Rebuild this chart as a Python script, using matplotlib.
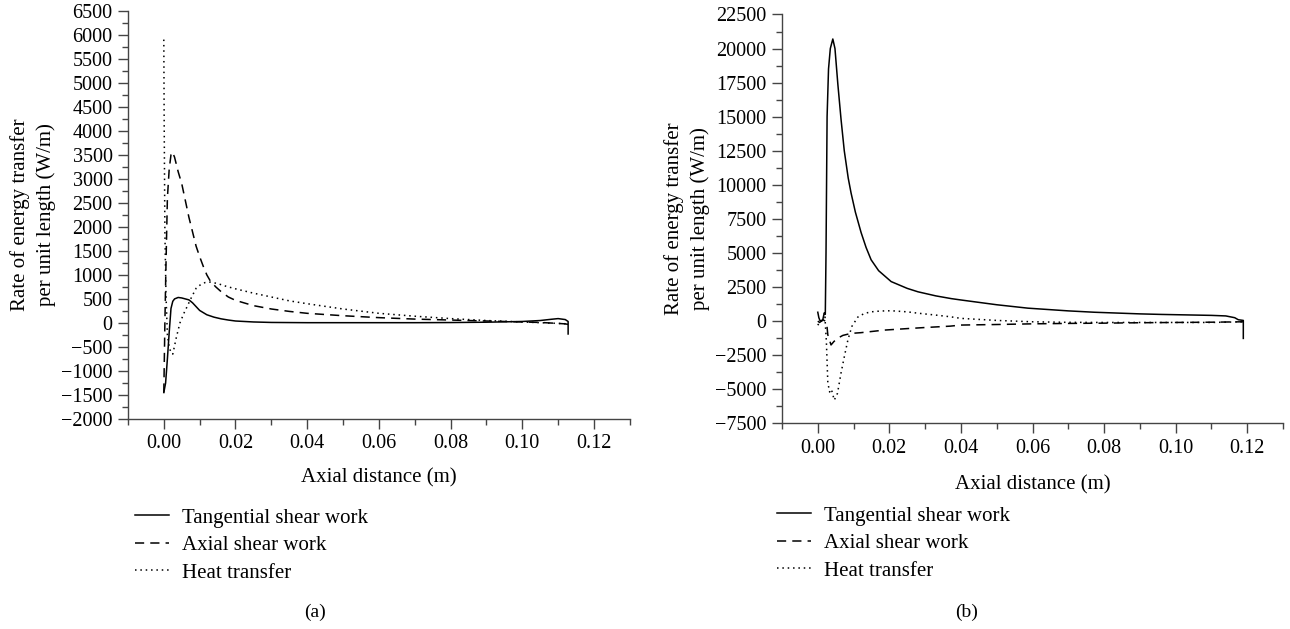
import matplotlib
matplotlib.use("Agg")
import matplotlib.pyplot as plt
from matplotlib.ticker import MultipleLocator, FormatStrFormatter

plt.rcParams['font.family'] = ['Liberation Serif', 'DejaVu Serif']
plt.rcParams['font.size'] = 14.5

# ---- panel (a) ----
a_tan_x = [0, 0.0005, 0.001, 0.0015, 0.002, 0.0025, 0.003, 0.004, 0.005, 0.006, 0.007,
           0.008, 0.009, 0.010, 0.012, 0.014, 0.016, 0.018, 0.020, 0.025, 0.030, 0.040,
           0.050, 0.060, 0.070, 0.080, 0.090, 0.100, 0.105, 0.108, 0.110, 0.112, 0.1128, 0.1128]
a_tan_y = [-1450, -1250, -750, -200, 300, 450, 500, 530, 520, 500, 480,
           420, 340, 260, 170, 120, 85, 60, 40, 20, 10, 5,
           5, 5, 5, 8, 15, 30, 50, 75, 90, 70, 30, -230]

a_ax_x = [0, 0.0003, 0.0006, 0.001, 0.0015, 0.002, 0.0024, 0.003, 0.004, 0.005, 0.006,
          0.007, 0.008, 0.009, 0.010, 0.011, 0.012, 0.013, 0.0145, 0.016, 0.018, 0.020,
          0.025, 0.030, 0.035, 0.040, 0.050, 0.060, 0.070, 0.080, 0.090, 0.100, 0.105,
          0.110, 0.112, 0.1128]
a_ax_y = [-1450, 0, 1200, 2600, 3200, 3500, 3560, 3450, 3150, 2900, 2550,
          2200, 1900, 1600, 1380, 1180, 1000, 870, 750, 650, 540, 470,
          360, 290, 240, 200, 150, 110, 80, 60, 40, 20, 10,
          -10, -20, -30]

a_heat_x = [0, 0.0001, 0.0003, 0.0006, 0.001, 0.0015, 0.002, 0.0025, 0.0035, 0.0045,
            0.0056, 0.0065, 0.0075, 0.009, 0.0103, 0.0115, 0.013, 0.015, 0.0175, 0.020,
            0.025, 0.030, 0.035, 0.040, 0.050, 0.060, 0.070, 0.080, 0.090, 0.100, 0.105,
            0.110, 0.1128]
a_heat_y = [5900, 4200, 1900, 600, -250, -500, -620, -650, -300, 0,
            200, 340, 500, 720, 800, 840, 850, 820, 760, 710,
            620, 540, 460, 400, 290, 200, 140, 90, 50, 20, 5,
            -10, -20]

# ---- panel (b) ----
b_tan_x = [0, 0.0003, 0.0006, 0.001, 0.0014, 0.0018, 0.0021, 0.0023, 0.0026, 0.003,
           0.0035, 0.0042, 0.0048, 0.0056, 0.0065, 0.0074, 0.0085, 0.0093, 0.0105, 0.0121,
           0.0135, 0.0149, 0.017, 0.0205, 0.025, 0.028, 0.033, 0.0373, 0.040, 0.050,
           0.0587, 0.070, 0.0773, 0.090, 0.096, 0.104, 0.110, 0.114, 0.1165, 0.1175,
           0.1189, 0.1189]
b_tan_y = [650, 250, 50, 0, 100, 600, 500, 5000, 15000, 18500,
           20000, 20700, 20000, 17400, 14800, 12500, 10500, 9400, 8000, 6500,
           5400, 4500, 3700, 2900, 2400, 2150, 1850, 1650, 1550, 1200,
           950, 750, 650, 530, 490, 450, 420, 380, 250, 100,
           50, -1270]

b_ax_x = [0, 0.0005, 0.001, 0.0015, 0.002, 0.0025, 0.0028, 0.0037, 0.0045, 0.0056,
          0.007, 0.0093, 0.012, 0.0186, 0.025, 0.030, 0.037, 0.040, 0.050, 0.060,
          0.070, 0.080, 0.090, 0.100, 0.110, 0.1189]
b_ax_y = [0, -100, 0, 100, 0, -200, -1000, -1750, -1500, -1250,
          -1050, -900, -850, -660, -550, -470, -370, -290, -250, -200,
          -170, -150, -120, -100, -80, -50]

b_heat_x = [0, 0.0005, 0.001, 0.0015, 0.002, 0.0024, 0.0028, 0.0033, 0.0038, 0.0046,
            0.0055, 0.0065, 0.0075, 0.0084, 0.0095, 0.0112, 0.013, 0.0149, 0.0175, 0.0205,
            0.025, 0.028, 0.033, 0.037, 0.040, 0.050, 0.060, 0.070, 0.080, 0.090,
            0.100, 0.110, 0.1189]
b_heat_y = [-300, -100, 0, 200, 300, -1500, -4500, -5200, -5000, -5800,
            -5300, -3800, -2500, -1400, -400, 300, 560, 680, 740, 760,
            680, 580, 440, 320, 200, 50, -50, -90, -100, -100,
            -100, -100, -50]

labels = ["Tangential shear work", "Axial shear work", "Heat transfer"]
ylabel = "Rate of energy transfer\nper unit length (W/m)"

fig = plt.figure(figsize=(12.9, 6.29), dpi=100)
ax_a = fig.add_axes([0.0992, 0.3339, 0.389, 0.649])
ax_b = fig.add_axes([0.6062, 0.327, 0.3884, 0.650])


def style(ax, ylo, yhi, ymaj, ymin, xpad):
    ax.set_xlim(-0.01, 0.13)
    ax.set_ylim(ylo, yhi)
    ax.xaxis.set_major_locator(MultipleLocator(0.02))
    ax.xaxis.set_minor_locator(MultipleLocator(0.01))
    ax.xaxis.set_major_formatter(FormatStrFormatter('%.2f'))
    ax.yaxis.set_major_locator(MultipleLocator(ymaj))
    ax.yaxis.set_minor_locator(MultipleLocator(ymin))
    for s in ['top', 'right']:
        ax.spines[s].set_visible(False)
    for s in ['left', 'bottom']:
        ax.spines[s].set_color('#444444')
        ax.spines[s].set_linewidth(1.0)
    ax.tick_params(which='major', direction='out', length=7, width=1, color='#444444', pad=4)
    ax.tick_params(which='minor', direction='out', length=4, width=1, color='#444444')
    ax.set_xlabel("Axial distance (m)", labelpad=xpad, fontsize=15)
    ax.set_ylabel(ylabel, linespacing=1.4, labelpad=4, fontsize=15)


lw = 1.1
ha = []
for ax, tx, ty, axx, axy, hx, hy in [
        (ax_a, a_tan_x, a_tan_y, a_ax_x, a_ax_y, a_heat_x, a_heat_y),
        (ax_b, b_tan_x, b_tan_y, b_ax_x, b_ax_y, b_heat_x, b_heat_y)]:
    l1, = ax.plot(tx, ty, color='black', lw=lw, ls='-', label=labels[0])
    l2, = ax.plot(axx, axy, color='black', lw=lw, ls=(0, (6, 4)), label=labels[1])
    l3, = ax.plot(hx, hy, color='black', lw=lw, ls=(0, (1, 2.5)), label=labels[2])
    ha.append([l1, l2, l3])

style(ax_a, -2000, 6500, 500, 250, 11)
style(ax_b, -7500, 22500, 2500, 1250, 13)

leg_kw = dict(frameon=False, loc='upper left', borderpad=0, borderaxespad=0,
              handlelength=1.65, handletextpad=0.6, labelspacing=0.38, fontsize=15)
fig.legend(handles=ha[0], bbox_to_anchor=(135 / 1290, 1 - 508 / 629), **leg_kw)
fig.legend(handles=ha[1], bbox_to_anchor=(777 / 1290, 1 - 506 / 629), **leg_kw)

fig.text(315 / 1290, 1 - 612 / 629, "(a)", ha='center', va='center', fontsize=14)
fig.text(967 / 1290, 1 - 612 / 629, "(b)", ha='center', va='center', fontsize=14)

fig.savefig("out.png", dpi=100)
